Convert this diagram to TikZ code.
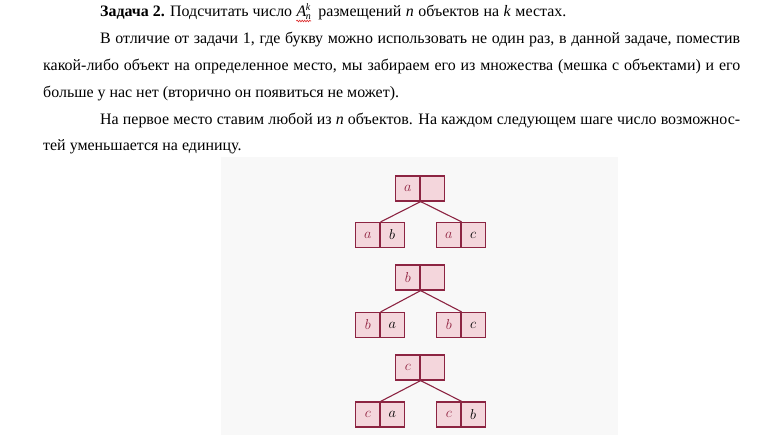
\documentclass[tikz,border=0pt]{standalone}
\usepackage{fontspec}
\setmainfont{Liberation Serif}
\usetikzlibrary{decorations.pathmorphing}
\definecolor{bgpanel}{RGB}{248,248,248}
\definecolor{cellfill}{RGB}{244,214,220}
\definecolor{celldraw}{RGB}{140,36,66}
\definecolor{lettercol}{RGB}{145,35,65}
\definecolor{spellred}{RGB}{220,40,40}
\tikzset{
  cell/.style={draw=celldraw, fill=cellfill, line width=1.2bp, minimum width=24.5bp, minimum height=25bp, inner sep=0pt, font=\fontsize{15}{17}\selectfont},
  branch/.style={draw=celldraw, line width=1.1bp},
  txtline/.style={anchor=base west, inner sep=0pt, font=\fontsize{16}{19}\selectfont},
}
\newcommand{\firstlet}[1]{\textcolor{lettercol}{$#1$}}
\newcommand{\seclet}[1]{$#1$}
\newcommand{\smallit}[1]{{\fontsize{10}{10}\selectfont\textit{#1}}}
\begin{document}
\begin{tikzpicture}[x=1bp,y=-1bp]
\useasboundingbox (0,0) rectangle (784,445);
\fill[white] (0,0) rectangle (784,445);
% text
\node[txtline] (l1a) at (100,17) {\textbf{Задача 2.} Подсчитать число};
\node[txtline] (l1A) at ([xshift=4bp]l1a.base east) {\textit{A}\kern-0.5bp\rlap{\raisebox{6.5bp}{\smallit{k}}}\raisebox{-3bp}{\smallit{n}}};
\node[txtline] (l1b) at ([xshift=7bp]l1A.base east) {\hbox to 248bp{размещений\hfil\textit{n}\hfil объектов\hfil на\hfil\textit{k}\hfil местах.}};
\coordinate (sq1) at ([yshift=-4bp]l1A.base west);
\coordinate (sq2) at ([yshift=-4bp]l1A.base east);
\draw[spellred, line width=0.6bp, decorate, decoration={snake, amplitude=0.8bp, segment length=2.5bp}] (sq1) -- (sq2);
\node[txtline] (l2) at (100,44) {\makebox[640bp][s]{В отличие от задачи 1, где букву можно использовать не один раз, в данной задаче, поместив}};
\node[txtline] (l3) at (43,71) {\makebox[697bp][s]{какой-либо объект на определенное место, мы забираем его из множества (мешка с объектами) и его}};
\node[txtline] (l4) at (43,98) {больше у нас нет (вторично он появиться не может).};
\node[txtline] (l5) at (100,125) {\makebox[640bp][s]{На первое место ставим любой из \textit{n} объектов. На каждом следующем шаге число возможнос-}};
\node[txtline] (l6) at (43,151) {тей уменьшается на единицу.};
% panel
\fill[bgpanel] (221,157) rectangle (618,435);
% tree 1
\node[cell] (t1a) at (407.8,188.5) {\firstlet{a}};
\node[cell] (t1b) at (432.2,188.5) {};
\node[cell] (c1a) at (367.8,235) {\firstlet{a}};
\node[cell] (c1b) at (392.2,235) {\seclet{b}};
\node[cell] (c1c) at (448.8,235) {\firstlet{a}};
\node[cell] (c1d) at (473.2,235) {\seclet{c}};
\draw[branch] (t1a.south east) -- (c1a.north east);
\draw[branch] (t1a.south east) -- (c1c.north east);
% tree 2
\node[cell] (t2a) at (407.8,277.5) {\firstlet{b}};
\node[cell] (t2b) at (432.2,277.5) {};
\node[cell] (c2a) at (367.8,325) {\firstlet{b}};
\node[cell] (c2b) at (392.2,325) {\seclet{a}};
\node[cell] (c2c) at (448.8,325) {\firstlet{b}};
\node[cell] (c2d) at (473.2,325) {\seclet{c}};
\draw[branch] (t2a.south east) -- (c2a.north east);
\draw[branch] (t2a.south east) -- (c2c.north east);
% tree 3
\node[cell] (t3a) at (407.8,367.5) {\firstlet{c}};
\node[cell] (t3b) at (432.2,367.5) {};
\node[cell] (c3a) at (367.8,414.5) {\firstlet{c}};
\node[cell] (c3b) at (392.2,414.5) {\seclet{a}};
\node[cell] (c3c) at (448.8,414.5) {\firstlet{c}};
\node[cell] (c3d) at (473.2,414.5) {\seclet{b}};
\draw[branch] (t3a.south east) -- (c3a.north east);
\draw[branch] (t3a.south east) -- (c3c.north east);
\end{tikzpicture}
\end{document}
